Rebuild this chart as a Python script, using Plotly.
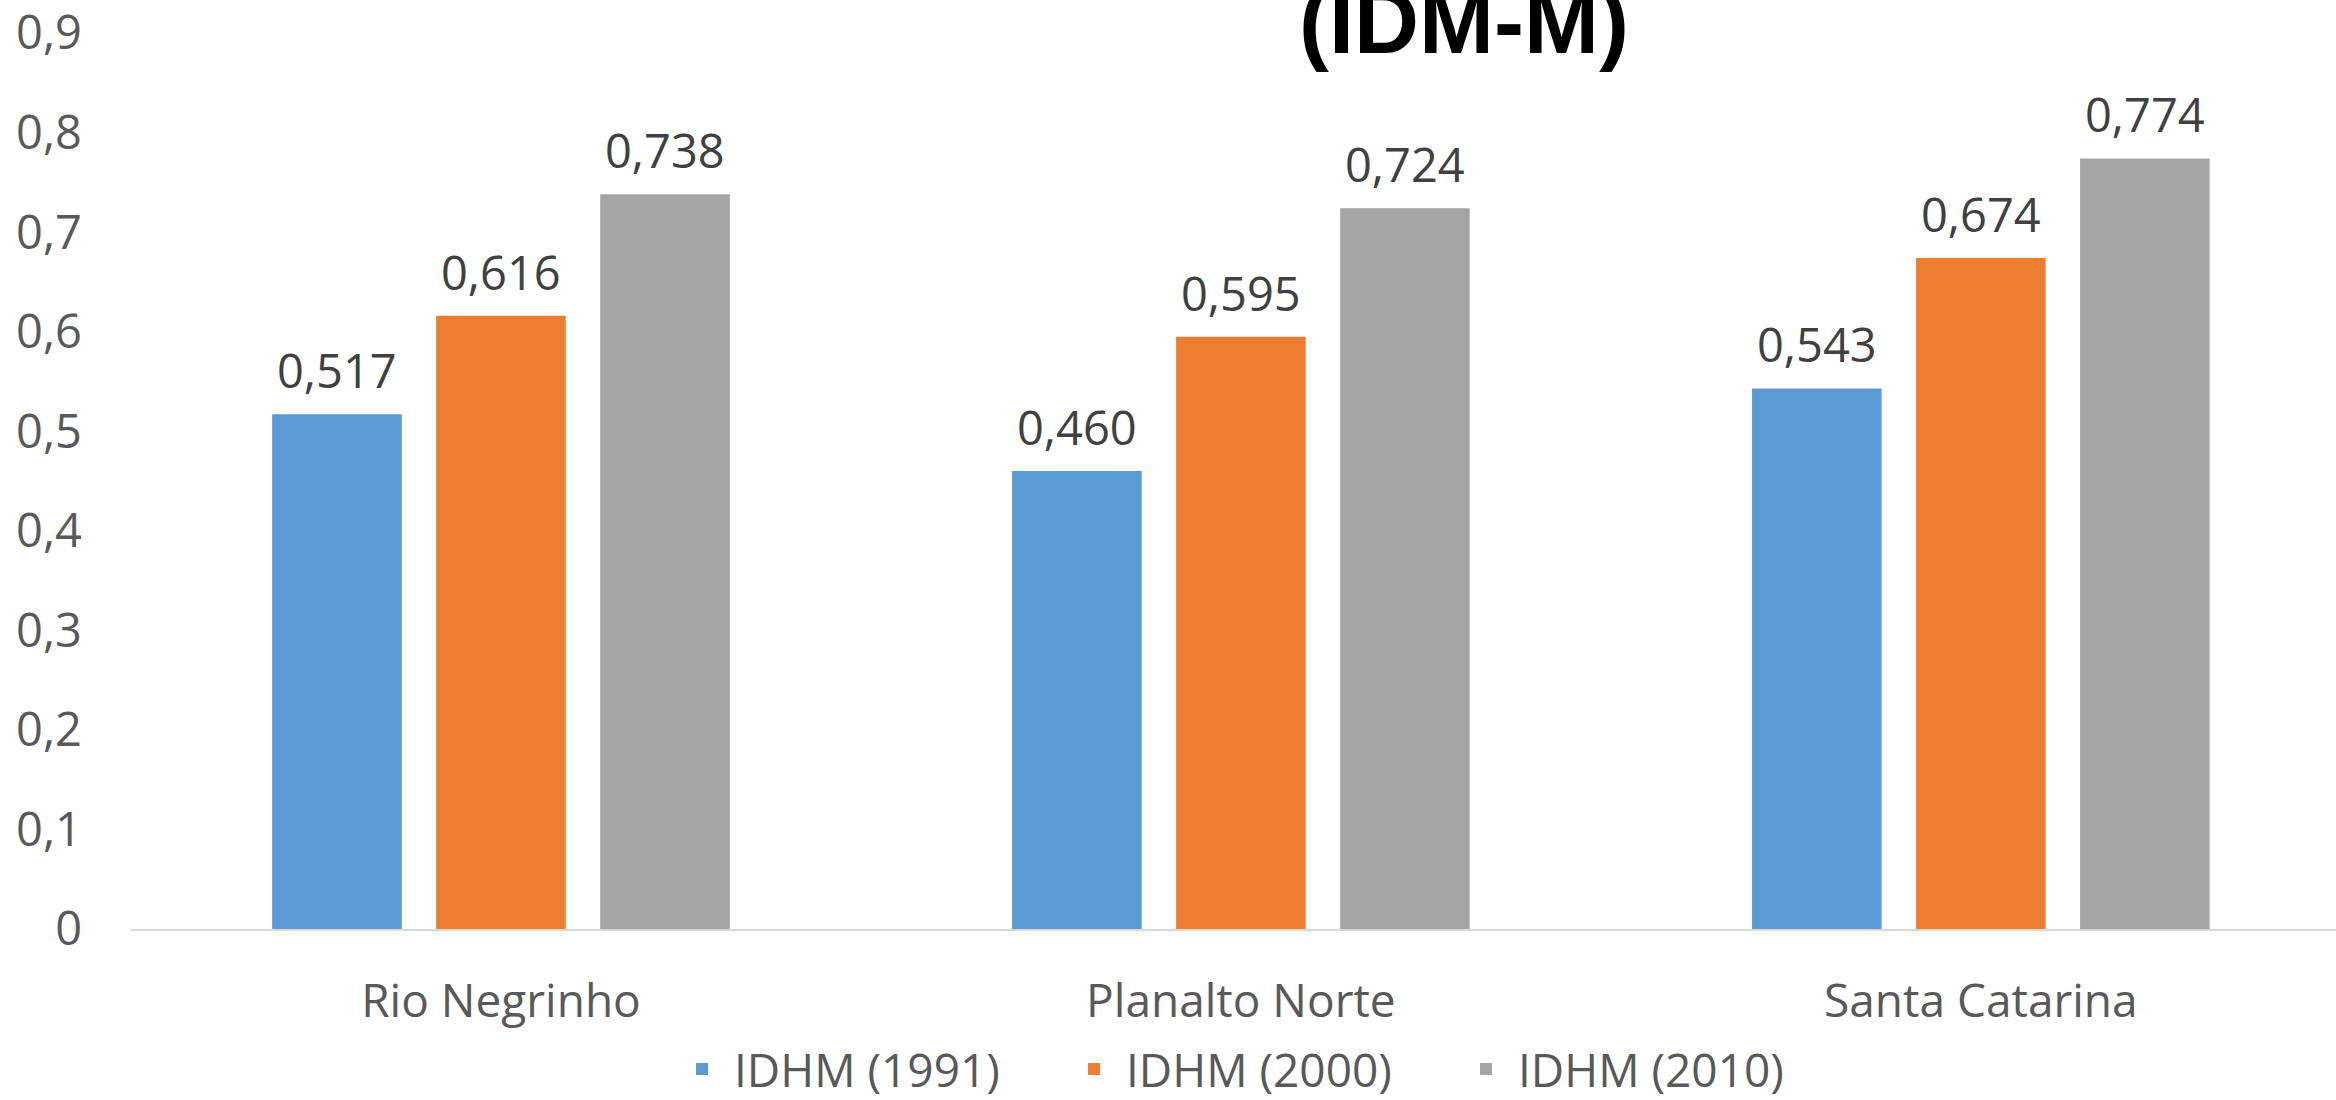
import plotly.graph_objects as go

# Dados do gráfico
regioes = ["Rio Negrinho", "Planalto Norte", "Santa Catarina"]
idhm_1991 = [0.517, 0.460, 0.543]
idhm_2000 = [0.616, 0.595, 0.674]
idhm_2010 = [0.738, 0.724, 0.774]
series = ["IDHM (1991)", "IDHM (2000)", "IDHM (2010)"]
y_ticks = [0, 0.1, 0.2, 0.3, 0.4, 0.5, 0.6, 0.7, 0.8, 0.9]

cores = ["#5B9BD5", "#ED7D31", "#A5A5A5"]
fonte = "Open Sans"

W, H = 2336, 1100
ml, mr, mt, mb = 131, 0, 33, 171
x_range = [-0.5, 2.48]
bargap, bargroupgap = 0.335, 0.21

# largura de cada "slot" de barra em pixels, para posicionar os rótulos
cat_px = (W - ml - mr) / (x_range[1] - x_range[0])
slot_px = (1 - bargap) * cat_px / len(series)

fig = go.Figure()
for i, (nome, valores, cor) in enumerate(zip(series, [idhm_1991, idhm_2000, idhm_2010], cores)):
    fig.add_trace(go.Bar(
        x=regioes, y=valores, name=nome,
        marker=dict(color=cor, line=dict(width=0)),
    ))
    # rótulos de dados
    for reg, v in zip(regioes, valores):
        fig.add_annotation(
            x=reg, y=v, text=f"{v:.3f}".replace(".", ","),
            xshift=(i - 1) * slot_px, yshift=44, yanchor="middle",
            showarrow=False, font=dict(family=fonte, size=47, color="#404040"),
        )

fig.add_annotation(
    text="<b>(IDM-M)</b>", xref="paper", yref="paper",
    x=0.6045, y=0.954, xanchor="center", yanchor="bottom",
    showarrow=False, font=dict(family="Liberation Sans", size=90, color="#000000"),
)

fig.update_layout(
    width=W, height=H,
    margin=dict(l=ml, r=mr, t=mt, b=mb),
    plot_bgcolor="white", paper_bgcolor="white",
    separators=",.",
    barmode="group", bargap=bargap, bargroupgap=bargroupgap,
    font=dict(family=fonte, color="#595959"),
    showlegend=True,
    legend=dict(
        orientation="h", x=(670 - ml) / (W - ml - mr), xanchor="left",
        yref="container", y=1 - 1069 / H, yanchor="middle",
        font=dict(family=fonte, size=46, color="#595959"),
        itemwidth=54, entrywidth=323, entrywidthmode="pixels",
    ),
)
fig.update_xaxes(
    range=x_range, showgrid=False, showline=True, linecolor="#D9D9D9", linewidth=2,
    tickfont=dict(family=fonte, size=46, color="#595959"), ticks="", ticklabelstandoff=31,
    automargin=False,
)
fig.update_yaxes(
    range=[0, 0.9], tickvals=y_ticks, showgrid=False, zeroline=False, showline=False,
    tickfont=dict(family=fonte, size=47, color="#595959"), ticks="", ticklabelstandoff=48,
    ticklabeloverflow="allow", automargin=False,
)

fig.write_html("out.html", config={"displayModeBar": False},
               post_script="document.body.style.margin='0';")
